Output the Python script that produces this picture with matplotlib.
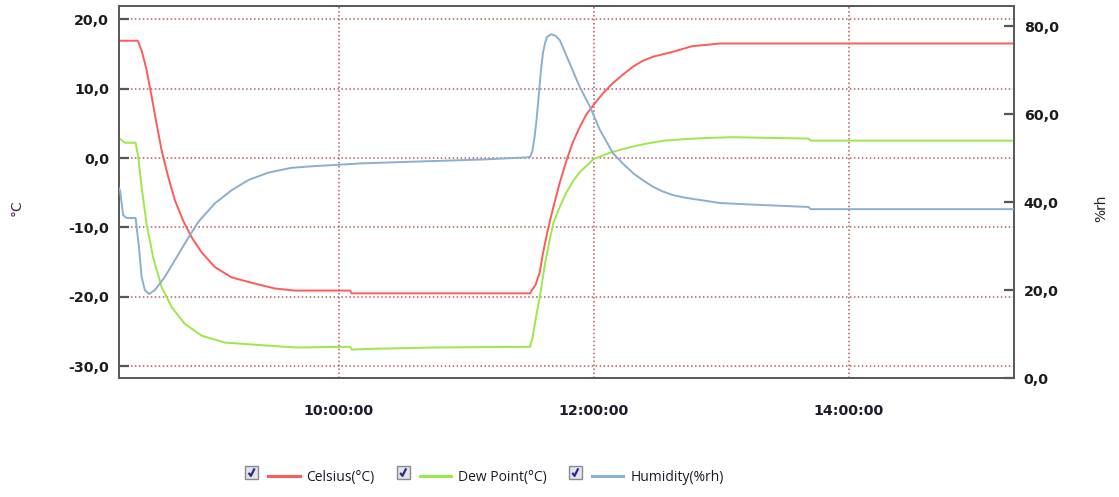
import numpy as np
import pandas as pd
import matplotlib
matplotlib.use("Agg")
from matplotlib import pyplot as plt
import matplotlib.dates as mdates
from matplotlib.lines import Line2D
from matplotlib.patches import Rectangle
from matplotlib.legend_handler import HandlerBase

# NOTE: readings taken off the logger chart (time, value)
celsius_t = ["08:16:00", "08:25:20", "08:27:10", "08:29:30", "08:31:55", "08:34:10", "08:36:35",
             "08:39:40", "08:42:50", "08:46:40", "08:50:40", "08:55:25", "09:01:35", "09:09:30",
             "09:20:30", "09:29:55", "09:39:20", "10:05:20", "10:06:00", "11:30:00", "11:30:40",
             "11:32:30", "11:34:30", "11:36:00", "11:38:00", "11:40:00", "11:41:00", "11:44:00",
             "11:47:10", "11:50:00", "11:53:25", "11:56:30", "12:00:30", "12:04:30", "12:09:00",
             "12:14:00", "12:18:35", "12:23:00", "12:27:55", "12:37:10", "12:46:00", "12:59:25",
             "15:18:00"]
celsius_v = [16.9, 16.9, 15.5, 12.7, 8.8, 5.0, 1.1,
             -2.7, -6.1, -9.0, -11.4, -13.6, -15.7, -17.2,
             -18.1, -18.8, -19.1, -19.1, -19.5, -19.5, -19.1,
             -18.3, -16.5, -13.8, -10.8, -8.2, -7.0, -3.5,
             -0.3, 2.2, 4.5, 6.3, 7.9, 9.4, 10.8,
             12.1, 13.2, 14.0, 14.6, 15.3, 16.1, 16.5,
             16.5]

dew_t = ["08:16:00", "08:19:20", "08:24:20", "08:25:35", "08:27:10", "08:29:30", "08:32:35",
         "08:36:35", "08:41:20", "08:47:30", "08:55:25", "09:06:25", "09:20:30", "09:39:20",
         "10:05:20", "10:06:00", "10:15:00", "10:45:00", "11:30:00", "11:31:10", "11:33:00",
         "11:34:35", "11:37:00", "11:39:20", "11:41:00", "11:44:00", "11:47:00", "11:50:30",
         "11:53:30", "11:57:00", "12:00:00", "12:03:00", "12:07:00", "12:12:00", "12:17:00",
         "12:22:00", "12:27:00", "12:33:00", "12:40:00", "12:47:00", "12:55:00", "13:05:00",
         "13:41:00", "13:42:00", "15:18:00"]
dew_v = [3.0, 2.2, 2.2, 0.1, -4.2, -9.5, -14.3,
         -18.6, -21.5, -23.9, -25.6, -26.6, -26.9, -27.3,
         -27.2, -27.6, -27.5, -27.3, -27.2, -25.8, -22.5,
         -20.0, -15.2, -11.6, -9.3, -7.0, -5.0, -3.2,
         -2.0, -1.0, -0.1, 0.2, 0.7, 1.15, 1.55,
         1.9, 2.2, 2.5, 2.65, 2.8, 2.9, 3.0,
         2.8, 2.5, 2.5]

hum_t = ["08:16:00", "08:17:00", "08:18:30", "08:20:05", "08:24:20", "08:25:55", "08:27:10",
         "08:28:40", "08:30:40", "08:33:25", "08:38:05", "08:42:50", "08:47:30", "08:53:50",
         "09:01:35", "09:09:30", "09:17:20", "09:26:40", "09:37:40", "09:48:40", "10:00:00",
         "10:10:00", "10:35:00", "11:08:00", "11:29:00", "11:30:00", "11:31:00", "11:32:00",
         "11:33:00", "11:34:00", "11:35:00", "11:36:00", "11:37:00", "11:38:00", "11:40:00",
         "11:42:00", "11:44:00", "11:48:40", "11:53:20", "11:58:10", "12:02:50", "12:06:00",
         "12:09:00", "12:14:00", "12:18:40", "12:23:00", "12:27:50", "12:32:00", "12:37:10",
         "12:43:00", "12:49:50", "12:59:20", "13:12:00", "13:41:00", "13:42:00", "15:18:00"]
hum_v = [43.5, 42.7, 37.0, 36.4, 36.4, 29.8, 23.0,
         20.0, 19.1, 20.0, 23.0, 26.8, 30.6, 35.5,
         39.7, 42.7, 45.0, 46.7, 47.8, 48.2, 48.5,
         48.8, 49.2, 49.7, 50.2, 50.3, 51.5, 54.5,
         58.6, 64.0, 69.5, 73.8, 76.2, 77.6, 78.2,
         77.8, 76.8, 71.5, 66.2, 61.7, 56.4, 53.7,
         51.1, 48.6, 46.5, 45.0, 43.5, 42.5, 41.6,
         41.0, 40.5, 39.8, 39.5, 38.9, 38.4, 38.4]

labels = ["Celsius(°C)", "Dew Point(°C)", "Humidity(%rh)"]
colors = ["#ff5a5a", "#9be84a", "#8aafd0"]


def to_time(lst):
    return pd.to_datetime(["2000-01-01 " + s for s in lst])


class CheckHandler(HandlerBase):
    # checkbox + line, like the logger software legend
    def create_artists(self, legend, orig_handle, xdescent, ydescent, width, height, fontsize, trans):
        yc = -ydescent + height / 2 + 2.5
        bs = 9.0
        x0 = -xdescent
        box = Rectangle((x0, yc - bs / 2), bs, bs, facecolor="#e2e4ee", edgecolor="#8a8a8a", lw=1.0, transform=trans)
        chk = Line2D([x0 + 2.3, x0 + 3.9, x0 + 6.6], [yc - 0.4, yc - 2.6, yc + 2.8],
                     color="#2a2a8c", lw=1.6, solid_capstyle="butt", transform=trans)
        ln = Line2D([x0 + bs + 7.5, x0 + width], [yc - 2.8, yc - 2.8], color=orig_handle.get_color(), lw=2.2, transform=trans)
        return [box, chk, ln]


fig = plt.figure(figsize=(11.19, 4.97), dpi=100)
ax = fig.add_axes([0.1063, 0.2394, 0.7998, 0.7485])
ax2 = ax.twinx()

grid_c = "#b85a5a"
l1, = ax.plot(to_time(celsius_t), celsius_v, color=colors[0], lw=1.4, zorder=3)
l2, = ax.plot(to_time(dew_t), dew_v, color=colors[1], lw=1.4, zorder=3)
l3, = ax2.plot(to_time(hum_t), hum_v, color=colors[2], lw=1.4, zorder=3)

ax.set_xlim(pd.Timestamp("2000-01-01 08:16:30"), pd.Timestamp("2000-01-01 15:17:40"))
ax.set_ylim(-31.7, 21.9)
ax2.set_ylim(0, 84.6)

ax.set_yticks(np.arange(-30, 21, 10))
ax2.set_yticks(np.arange(0, 81, 20))
ax.xaxis.set_major_locator(mdates.HourLocator(byhour=[10, 12, 14]))
ax.xaxis.set_major_formatter(mdates.DateFormatter("%H:%M:%S"))
ax.yaxis.set_major_formatter(lambda v, p: f"{v:.1f}".replace(".", ","))
ax2.yaxis.set_major_formatter(lambda v, p: f"{v:.1f}".replace(".", ","))

ax.grid(True, color=grid_c, linestyle=(0, (1, 1.6)), lw=1.1)

for a in (ax, ax2):
    for s in a.spines.values():
        s.set_color("#5a5a5a")
        s.set_linewidth(1.3)

ax.tick_params(axis="y", direction="in", length=7, width=1.6, color="#555555", pad=7,
               labelsize=10.3, labelcolor="#1c1c1c")
ax2.tick_params(axis="y", direction="in", length=7, width=1.6, color="#555555", pad=7,
                labelsize=10.3, labelcolor="#1c1c1c")
ax.tick_params(axis="x", length=0, pad=19, labelsize=10.3, labelcolor="#1c1c2c")
for t in ax.get_xticklabels() + ax.get_yticklabels() + ax2.get_yticklabels():
    t.set_fontweight("bold")

ax.set_ylabel("°C", color="#4a2050", fontsize=10, rotation=90)
ax.yaxis.set_label_coords(-0.107, 0.457)
ax2.set_ylabel("%rh", color="#222222", fontsize=10, rotation=90)
ax2.yaxis.set_label_coords(1.09, 0.457)

leg = fig.legend([l1, l2, l3], labels, loc="center", bbox_to_anchor=(0.433, 0.040),
                 ncol=3, frameon=False, handlelength=3.9, handletextpad=0.5, columnspacing=1.6,
                 handler_map={Line2D: CheckHandler()},
                 prop={"family": "Open Sans", "size": 10})
for t in leg.get_texts():
    t.set_color("#1a1a2a")

fig.savefig("out.png", dpi=100)
